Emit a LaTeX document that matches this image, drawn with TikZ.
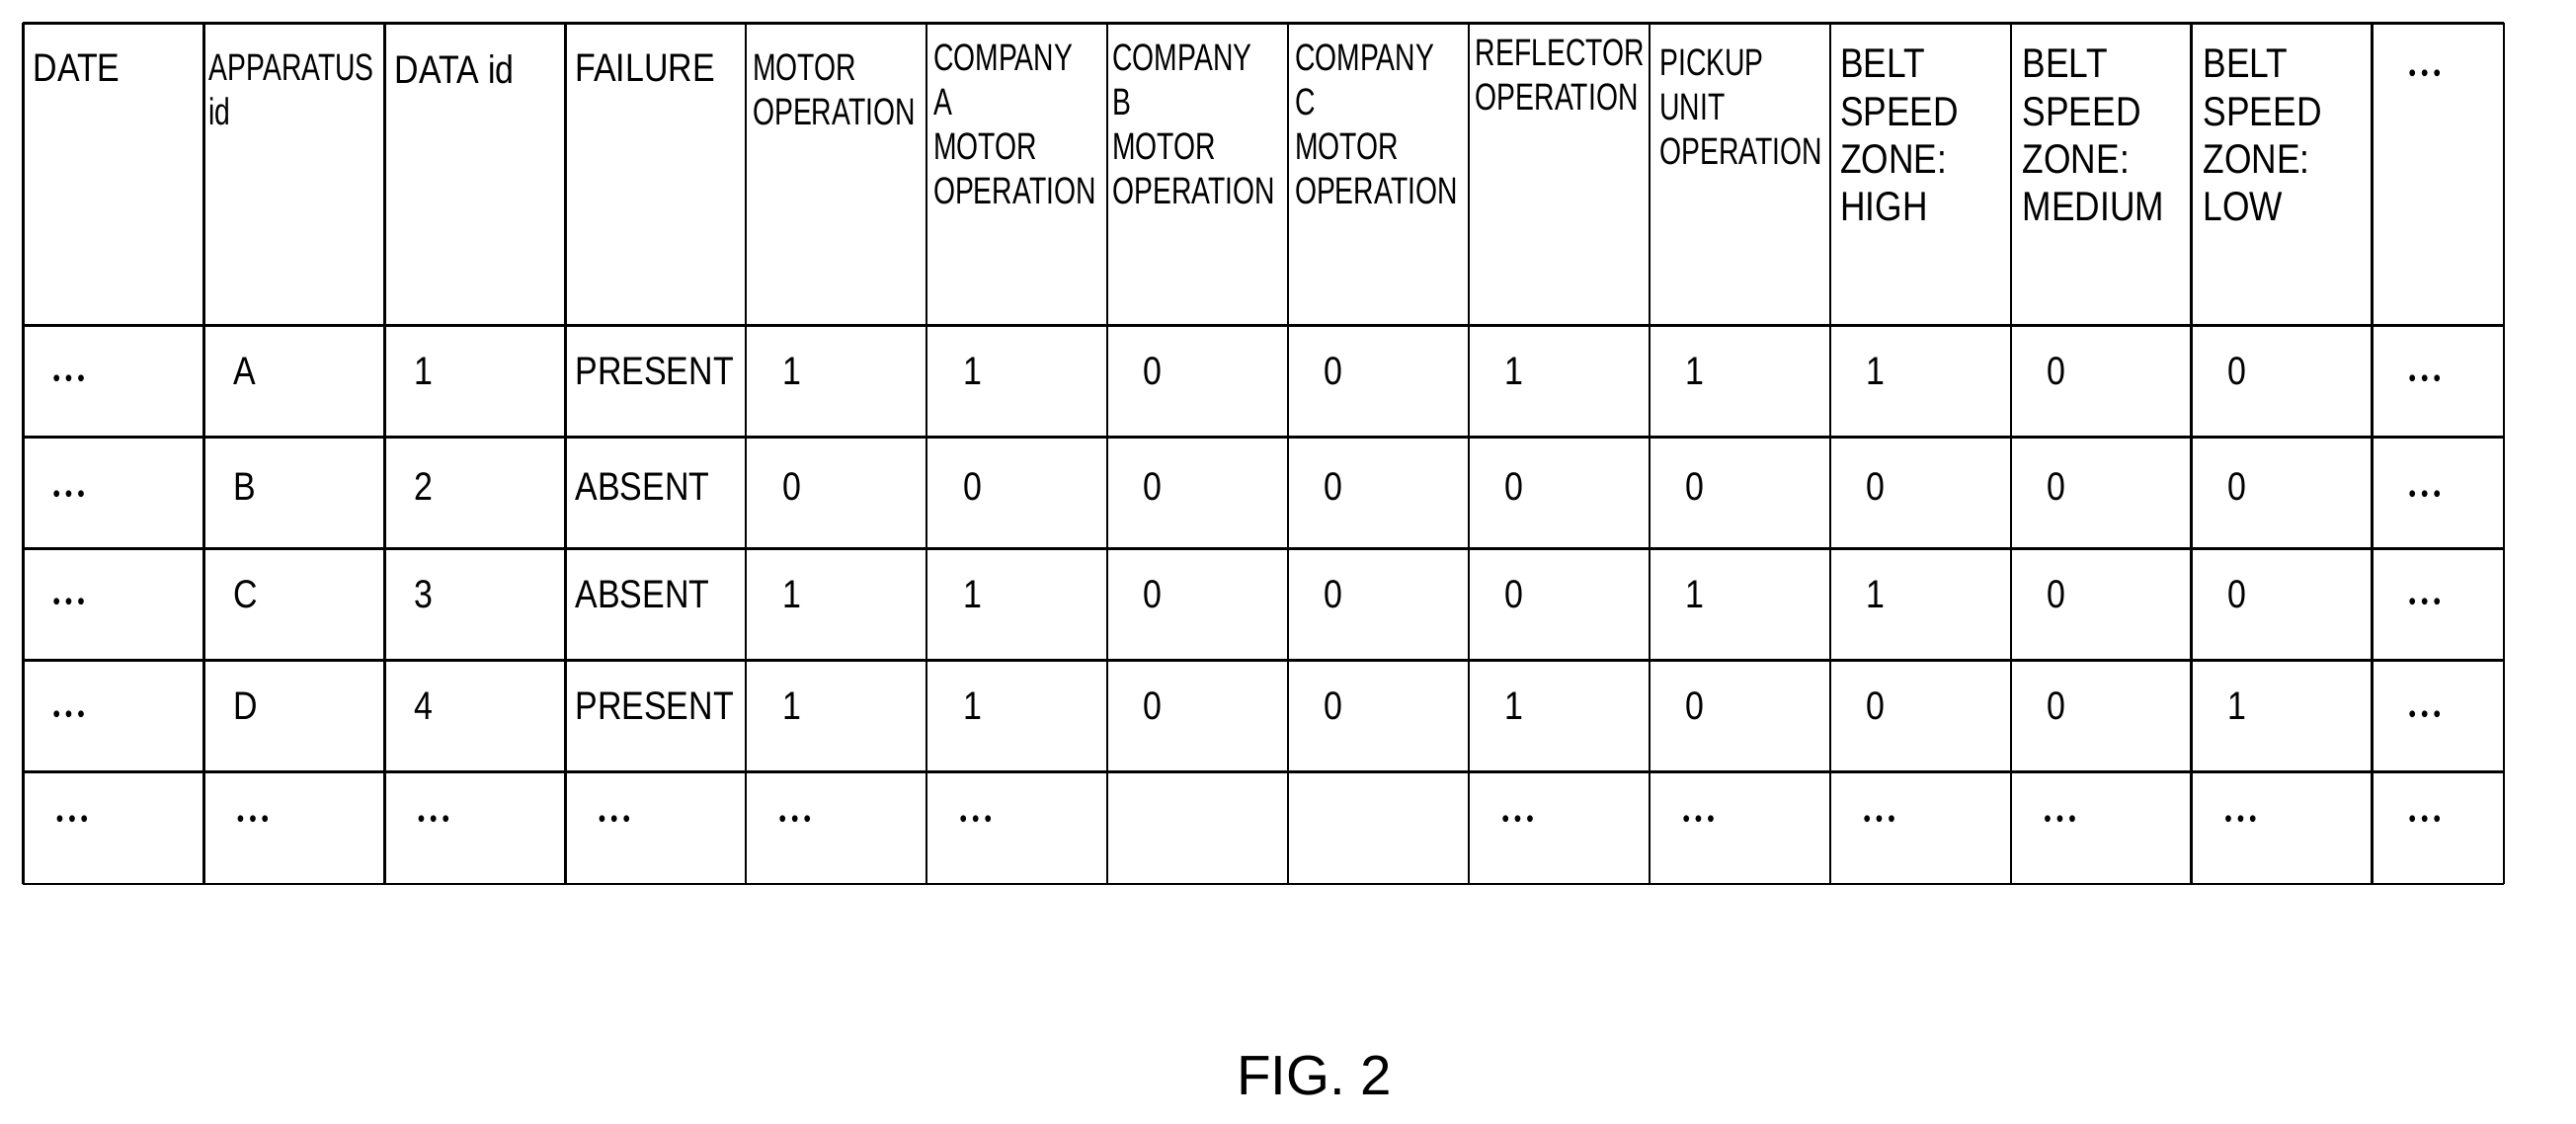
\documentclass[tikz,border=0pt]{standalone}
\usepackage{fontspec}
\setmainfont{Liberation Sans}
\newfontfamily\hdf[FakeStretch=0.74]{Liberation Sans}
\newfontfamily\bdf[FakeStretch=0.85]{Liberation Sans}
\newcommand{\dd}{{\fontsize{15}{15}\selectfont\textbullet\hspace{3pt}\textbullet\hspace{3pt}\textbullet}}
\begin{document}
\begin{tikzpicture}[x=1pt,y=-1pt,
  hd/.style={anchor=north west,align=left,inner sep=0pt,font=\hdf\fontsize{23}{27}\selectfont},
  bd/.style={anchor=west,inner sep=0pt,font=\bdf\fontsize{24}{28}\selectfont},
  dt/.style={bd,yshift=-6pt},
  grid/.style={line width=1.6pt}]
\useasboundingbox (0,0) rectangle (1568,684);
\def\cols{14,124,234,344,454,564,674,784,894,1004,1114,1224,1334,1444,1524}
\foreach \x in \cols {\draw[grid] (\x,14) -- (\x,538);}
\foreach \y in {14,198,266,334,402,470,538} {\draw[grid] (14,\y) -- (1524,\y);}
% header
\node[hd,font=\bdf\fontsize{24}{28}\selectfont] (h1) at (20,33) {DATE};
\node[hd] (h2) at (127,33) {APPARATUS\\id};
\node[hd,font=\bdf\fontsize{24}{28}\selectfont] (h3) at (240,33) {DATA id};
\node[hd,font=\bdf\fontsize{24}{28}\selectfont] (h4) at (350,33) {FAILURE};
\node[hd] (h5) at (458,33) {MOTOR\\OPERATION};
\node[hd] (h6) at (568,27) {COMPANY\\A\\MOTOR\\OPERATION};
\node[hd] (h7) at (677,27) {COMPANY\\B\\MOTOR\\OPERATION};
\node[hd] (h8) at (788,27) {COMPANY\\C\\MOTOR\\OPERATION};
\node[hd] (h9) at (898,24) {REFLECTOR\\OPERATION};
\node[hd] (h10) at (1010,30) {PICKUP\\UNIT\\OPERATION};
\node[hd,font=\bdf\fontsize{25}{29}\selectfont] (h11) at (1120,30) {BELT\\SPEED\\ZONE:\\HIGH};
\node[hd,font=\bdf\fontsize{25}{29}\selectfont] (h12) at (1231,30) {BELT\\SPEED\\ZONE:\\MEDIUM};
\node[hd,font=\bdf\fontsize{25}{29}\selectfont] (h13) at (1341,30) {BELT\\SPEED\\ZONE:\\LOW};
\node[dt] (h14) at (1466,40) {\dd};
% body
\foreach \r/\y/\a/\b/\c/\d in {1/226/A/1/PRESENT/{1,1,0,0,1,1,1,0,0},2/296/B/2/ABSENT/{0,0,0,0,0,0,0,0,0},3/362/C/3/ABSENT/{1,1,0,0,0,1,1,0,0},4/430/D/4/PRESENT/{1,1,0,0,1,0,0,0,1}}{
  \node[dt] (r\r c1) at (32,\y) {\dd};
  \node[bd] (r\r c2) at (142,\y) {\a};
  \node[bd] (r\r c3) at (252,\y) {\b};
  \node[bd] (r\r c4) at (350,\y) {\c};
  \foreach \v [count=\i from 5] in \d {
    \pgfmathsetmacro\xx{454+(\i-5)*110+22}
    \node[bd] (r\r c\i) at (\xx,\y) {\v};
  }
  \node[dt] (r\r c14) at (1466,\y) {\dd};
}
\foreach \i/\x in {1/34,2/144,3/254,4/364,5/474,6/584,9/914,10/1024,11/1134,12/1244,13/1354,14/1466}
  {\node[dt] (r5c\i) at (\x,494) {\dd};}
\node[font=\fontsize{34}{40}\selectfont,inner sep=0pt] (fig) at (800,655) {FIG. 2};
\end{tikzpicture}
\end{document}
